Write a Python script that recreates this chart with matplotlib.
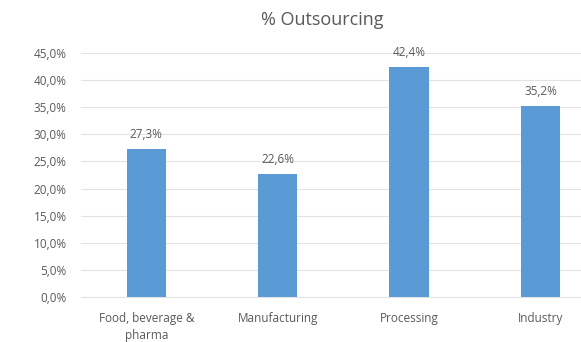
import matplotlib.pyplot as plt
from matplotlib.ticker import FuncFormatter

categories = ["Food, beverage &\npharma", "Manufacturing", "Processing", "Industry"]
outsourcing = [27.3, 22.6, 42.4, 35.2]
y_ticks = [0, 5, 10, 15, 20, 25, 30, 35, 40, 45]

bar_color = "#5B9BD5"
text_color = "#595959"

plt.rcParams['font.family'] = ['Open Sans', 'DejaVu Sans']

fig = plt.figure(figsize=(5.81, 3.42), dpi=100)
# plot area runs past the right edge of the figure
ax = fig.add_axes([0.1386, 0.1316, 0.905, 0.7135])

x = range(len(categories))
bars = ax.bar(x, outsourcing, width=0.30, color=bar_color, zorder=3)

for rect, v in zip(bars, outsourcing):
    ax.annotate(f"{v:.1f}%".replace(".", ","),
                (rect.get_x() + rect.get_width() / 2, rect.get_height()),
                xytext=(0, 6), textcoords="offset points",
                ha="center", va="bottom", fontsize=8.5, color=text_color)

ax.set_xlim(-0.5, len(categories) - 0.5)
ax.set_ylim(0, 45)
ax.set_yticks(y_ticks)
ax.yaxis.set_major_formatter(FuncFormatter(lambda v, p: f"{v:.1f}%".replace(".", ",")))
ax.set_xticks(list(x))
ax.set_xticklabels(categories, linespacing=1.35)

ax.grid(axis="y", color="#E3E3E3", linewidth=0.8, zorder=0)
for s in ax.spines.values():
    s.set_visible(False)
ax.spines["bottom"].set_visible(True)
ax.spines["bottom"].set_color("#E3E3E3")
ax.tick_params(axis="both", length=0, colors=text_color)
ax.tick_params(axis="y", pad=10, labelsize=8.5)
ax.tick_params(axis="x", pad=11, labelsize=8.5)

fig.text(322 / 581, 1 - 20 / 342, "% Outsourcing", ha="center", va="center",
         fontsize=13, color=text_color)

fig.savefig("out.png", dpi=100)
